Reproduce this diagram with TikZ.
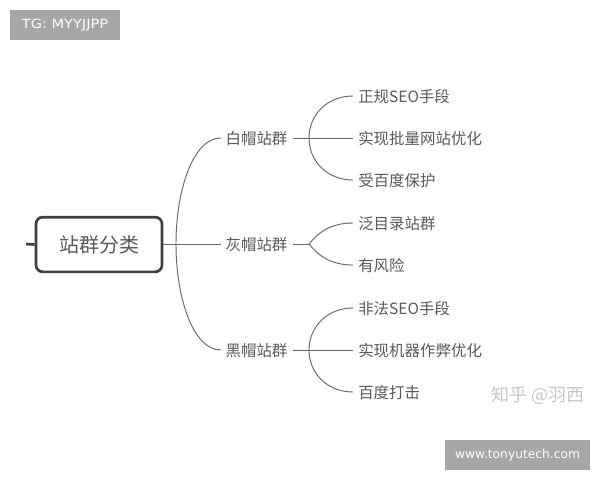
\documentclass[tikz,border=0pt]{standalone}
\usepackage{fontspec}
\setmainfont{Noto Sans CJK SC}
\newfontfamily\latinwm{DejaVu Sans}
\newfontfamily\tgwm[FakeStretch=1.15]{DejaVu Sans}
\begin{document}
\begin{tikzpicture}[x=0.75pt,y=-0.75pt,
  rootbox/.style={draw=black!75,line width=2pt,rounded corners=5pt,fill=white,minimum width=94.5pt,minimum height=41pt,inner sep=0pt,text=black!65,font=\fontsize{15}{18}\selectfont},
  lbl/.style={inner sep=0pt,minimum height=13pt,text=black!65,font=\fontsize{11.6}{14}\selectfont},
  branch/.style={lbl,anchor=center},
  leaf/.style={lbl,anchor=west},
  link/.style={draw=black!60,line width=0.7pt},
  wmbox/.style={fill=black!35,text=white,inner sep=0pt}]
\useasboundingbox (0,0) rectangle (600,480);
\fill[white] (0,0) rectangle (600,480);
\node[rootbox] (root) at (99,244.5) {站群分类};
\coordinate (stub) at (26,244);
\draw[draw=black!75,line width=2pt] (root.west) -- (stub);
\node[branch] (white) at (256.5,139) {白帽站群};
\node[branch] (gray) at (256.5,245) {灰帽站群};
\node[branch] (black) at (256.5,351) {黑帽站群};
\coordinate (wl) at (221,138);
\coordinate (bl) at (221,350);
\coordinate (gl) at (221,244);
\coordinate (tr) at (176,244);
\draw[link] (root.east |- gl) -- (gl);
\draw[link] (tr) .. controls (176,190) and (193,138) .. (wl);
\draw[link] (tr) .. controls (176,298) and (193,350) .. (bl);
% white group
\node[leaf] (a1) at (358,97) {正规SEO手段};
\node[leaf] (a2) at (358,139) {实现批量网站优化};
\node[leaf] (a3) at (358,181) {受百度保护};
\coordinate (af) at (309,138);
\coordinate (a1e) at (353,96);
\coordinate (a2e) at (353,138);
\coordinate (a3e) at (353,180);
\draw[link] (white.east |- af) ++(4pt,0) -- (a2e);
\draw[link] (af) .. controls (309,115) and (327,96) .. (a1e);
\draw[link] (af) .. controls (309,161) and (327,180) .. (a3e);
% gray group
\node[leaf] (b1) at (358,224) {泛目录站群};
\node[leaf] (b2) at (358,266) {有风险};
\coordinate (bf) at (309,244);
\coordinate (b1e) at (353,223);
\coordinate (b2e) at (353,265);
\draw[link] (gray.east |- bf) ++(4pt,0) -- (bf);
\draw[link] (bf) .. controls (318,233) and (330,223) .. (b1e);
\draw[link] (bf) .. controls (318,255) and (330,265) .. (b2e);
% black group
\node[leaf] (c1) at (358,309) {非法SEO手段};
\node[leaf] (c2) at (358,351) {实现机器作弊优化};
\node[leaf] (c3) at (358,393) {百度打击};
\coordinate (cf) at (309,350);
\coordinate (c1e) at (353,308);
\coordinate (c2e) at (353,350);
\coordinate (c3e) at (353,392);
\draw[link] (black.east |- cf) ++(4pt,0) -- (c2e);
\draw[link] (cf) .. controls (309,327) and (327,308) .. (c1e);
\draw[link] (cf) .. controls (309,373) and (327,392) .. (c3e);
% watermarks
\node[wmbox,minimum width=82.5pt,minimum height=22.5pt,font=\tgwm\fontsize{9.5}{11}\selectfont] (tg) at (65,25) {TG: MYYJJPP};
\node[wmbox,minimum width=108.75pt,minimum height=22.5pt,font=\latinwm\fontsize{9.2}{11}\selectfont] (site) at (517.5,455) {www.tonyutech.com};
\node[inner sep=0pt,text=black!22,font=\fontsize{13.5}{16}\selectfont] (zh) at (538,395) {知乎 @羽西};
\end{tikzpicture}
\end{document}
